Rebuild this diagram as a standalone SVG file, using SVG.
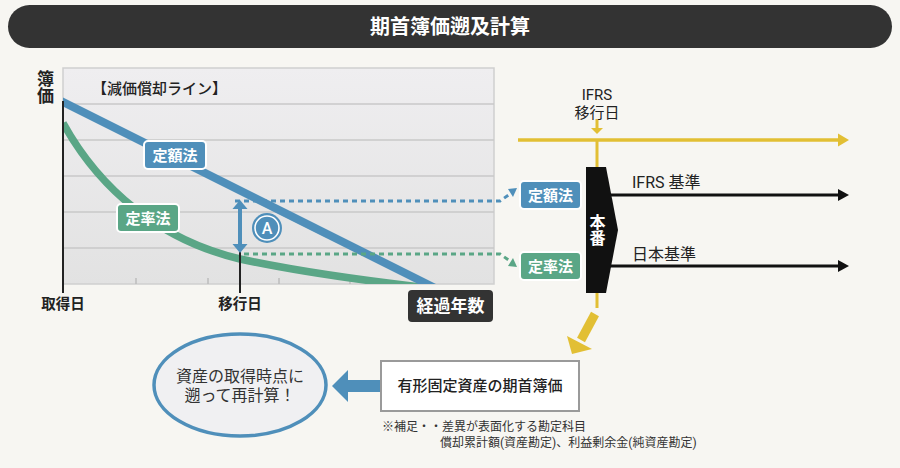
<svg xmlns="http://www.w3.org/2000/svg" width="900" height="468" viewBox="0 0 900 468">
<defs>
<style>
text{font-family:Roboto,"Noto Sans CJK JP",sans-serif;}
.w{fill:#fff}
.d{fill:#222}
.b{font-weight:700}
.m{font-weight:500}
.v{writing-mode:vertical-rl}
.grid{stroke:#c9c9c9;stroke-width:1.5}
.tick{stroke:#bdbdbd;stroke-width:1.5}
</style>
<linearGradient id="bg" x1="0" y1="0" x2="0" y2="1">
<stop offset="0" stop-color="#efeef0"/>
<stop offset="1" stop-color="#e2e2e2"/>
</linearGradient>
<clipPath id="cp"><rect x="63" y="68" width="431" height="216"/></clipPath>
</defs>
<rect width="900" height="468" fill="#f7f6f2"/>

<g id="title">
<rect x="8" y="5" width="884" height="43" rx="21.5" fill="#333"/>
<text x="450" y="34" text-anchor="middle" font-size="20" class="w b">期首簿価遡及計算</text>
</g>

<g id="chart">
<rect x="63" y="68" width="431" height="216" fill="url(#bg)" stroke="#cfcfcf" stroke-width="1.5"/>
<line class="grid" x1="63" y1="104" x2="494" y2="104"/>
<line class="grid" x1="63" y1="140" x2="494" y2="140"/>
<line class="grid" x1="63" y1="176" x2="494" y2="176"/>
<line class="grid" x1="63" y1="212" x2="494" y2="212"/>
<line class="grid" x1="63" y1="248" x2="494" y2="248"/>
<line class="tick" x1="136" y1="278" x2="136" y2="284"/>
<line class="tick" x1="208" y1="278" x2="208" y2="284"/>
<line class="tick" x1="279" y1="278" x2="279" y2="284"/>
<line class="tick" x1="350" y1="278" x2="350" y2="284"/>
<line class="tick" x1="421" y1="278" x2="421" y2="284"/>
<g clip-path="url(#cp)">
<path d="M63,123 C100,190 160,240 240,259 C300,272 360,280 420,287" fill="none" stroke="#5aa686" stroke-width="7.5"/>
<line x1="60" y1="100.5" x2="440" y2="290.5" stroke="#4f8fba" stroke-width="8"/>
</g>
<line x1="63" y1="101" x2="63" y2="293" stroke="#222" stroke-width="2"/>
<text x="92" y="94" font-size="15" class="d m">【減価償却ライン】</text>
<text x="44" y="70" font-size="17" class="d b v">簿価</text>
<text x="63" y="309" text-anchor="middle" font-size="14.5" class="d b">取得日</text>
<text x="240" y="309" text-anchor="middle" font-size="14.5" class="d b">移行日</text>
</g>

<g id="label-teigaku-chart">
<rect x="144" y="141" width="62" height="28" rx="4" fill="#4f8fba" stroke="#fff" stroke-width="2"/>
<text x="175" y="160.5" text-anchor="middle" font-size="15" class="w b">定額法</text>
</g>
<g id="label-teiritsu-chart">
<rect x="117" y="204" width="62" height="28" rx="4" fill="#5aa686" stroke="#fff" stroke-width="2"/>
<text x="148" y="223.5" text-anchor="middle" font-size="15" class="w b">定率法</text>
</g>

<g id="transition-marker">
<line x1="240" y1="252" x2="240" y2="293" stroke="#222" stroke-width="2"/>
<line x1="240" y1="206" x2="240" y2="247" stroke="#4f8fba" stroke-width="4"/>
<polygon points="232.5,209 247.5,209 240,200" fill="#4f8fba"/>
<polygon points="232.5,244 247.5,244 240,253" fill="#4f8fba"/>
</g>

<g id="circle-a">
<circle cx="267" cy="228" r="15" fill="#4f8fba"/>
<circle cx="267" cy="228" r="12" fill="none" stroke="#fff" stroke-width="1.6"/>
<text x="267" y="234" text-anchor="middle" font-size="16" class="w m">A</text>
</g>

<g id="elapsed">
<rect x="408" y="290" width="85" height="32" rx="4" fill="#333"/>
<text x="450.5" y="312" text-anchor="middle" font-size="17" class="w b">経過年数</text>
</g>

<g id="connectors">
<polyline points="235,201 500,201 510,194" fill="none" stroke="#4f8fba" stroke-width="3" stroke-dasharray="5,4"/>
<polygon points="508,189 517,188 513,197" fill="#4f8fba"/>
<polyline points="244,254 500,254 510,261" fill="none" stroke="#5aa686" stroke-width="3" stroke-dasharray="5,4"/>
<polygon points="508,266 517,267 513,258" fill="#5aa686"/>
<line x1="518" y1="140" x2="840" y2="140" stroke="#e2bf34" stroke-width="3.5"/>
<polygon points="838,133.5 849,140 838,146.5" fill="#e2bf34"/>
<line x1="597" y1="119" x2="597" y2="129" stroke="#e2bf34" stroke-width="3"/>
<polygon points="591,128 603,128 597,134" fill="#e2bf34"/>
<line x1="597" y1="140" x2="597" y2="308" stroke="#e2bf34" stroke-width="3"/>
<line x1="595" y1="314" x2="581" y2="340" stroke="#e2bf34" stroke-width="9"/>
<polygon points="567,336 592,349 572,354" fill="#e2bf34"/>
<line x1="610" y1="195" x2="840" y2="195" stroke="#111" stroke-width="3"/>
<polygon points="838,189 849,195 838,201" fill="#111"/>
<line x1="610" y1="266" x2="840" y2="266" stroke="#111" stroke-width="3"/>
<polygon points="838,260 849,266 838,272" fill="#111"/>
<rect x="347" y="380" width="35" height="12" fill="#4f8fba"/>
<polygon points="348,370 348,402 332,386" fill="#4f8fba"/>
</g>

<g id="ifrs-date">
<text x="597" y="100" text-anchor="middle" font-size="15" class="d">IFRS</text>
<text x="597" y="118" text-anchor="middle" font-size="15" class="d">移行日</text>
</g>

<g id="label-teigaku-right">
<rect x="520" y="181" width="61" height="28" rx="4" fill="#4f8fba" stroke="#fff" stroke-width="2"/>
<text x="550.5" y="200.5" text-anchor="middle" font-size="15" class="w b">定額法</text>
</g>
<g id="label-teiritsu-right">
<rect x="520" y="252" width="61" height="28" rx="4" fill="#5aa686" stroke="#fff" stroke-width="2"/>
<text x="550.5" y="271.5" text-anchor="middle" font-size="15" class="w b">定率法</text>
</g>

<g id="honban">
<polygon points="586,167 606,167 618,230 606,293 586,293" fill="#111"/>
<text x="596" y="214" font-size="16" class="w b v">本番</text>
</g>

<g id="ifrs-standard">
<text x="632" y="188" font-size="16" class="d">IFRS 基準</text>
</g>
<g id="jp-standard">
<text x="632" y="260" font-size="16" class="d">日本基準</text>
</g>

<g id="opening-book-value">
<rect x="381" y="361" width="198" height="50" fill="#fff" stroke="#9a9a9a" stroke-width="2"/>
<text x="480" y="391" text-anchor="middle" font-size="15" class="d m">有形固定資産の期首簿価</text>
</g>

<g id="recalc">
<ellipse cx="240" cy="385" rx="86" ry="51" fill="#f0f0f2" stroke="#4f8fba" stroke-width="3.5"/>
<text x="240" y="382" text-anchor="middle" font-size="16" fill="#333">資産の取得時点に</text>
<text x="240" y="401" text-anchor="middle" font-size="16" fill="#333">遡って再計算！</text>
</g>

<g id="note">
<text x="382" y="431" font-size="12" fill="#333">※補足・・差異が表面化する勘定科目</text>
<text x="440" y="447" font-size="12" fill="#333">償却累計額(資産勘定)、利益剰余金(純資産勘定)</text>
</g>
</svg>
